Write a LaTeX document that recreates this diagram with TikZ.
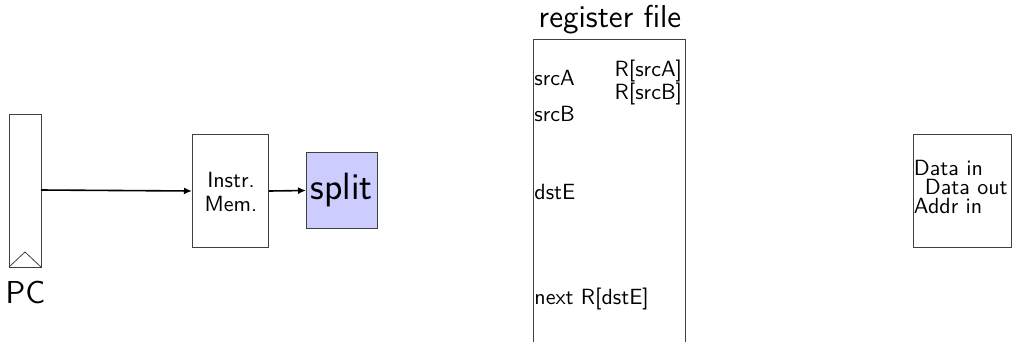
\documentclass[tikz,border=0pt]{standalone}
\usetikzlibrary{arrows.meta}
\begin{document}
\begin{tikzpicture}[x=1pt,y=-1pt,
  small/.style={font=\sffamily\normalsize, scale=2.2, inner sep=0pt},
  big/.style={font=\sffamily\Large, scale=2.2, inner sep=0pt},
  bigger/.style={font=\sffamily\LARGE, scale=2.2, inner sep=0pt},
  unit/.style={draw=black!75, line width=1pt},
  wire/.style={line width=1.6pt, -{Latex[length=8pt,width=7pt]}}
]
\useasboundingbox (0,0) rectangle (1013,341);
% PC register
\draw[unit] (9,114) rectangle (41,267);
\draw[black!75, line width=0.8pt] (9,267) -- (25,252) -- (41,267);
\coordinate (pcout) at (41,190);
\node[big, anchor=base] (pc) at (25.5,303) {PC};
% instruction memory
\node[unit, minimum width=76pt, minimum height=113pt, anchor=north west, inner sep=0pt] (imem) at (192,134) {};
\node[small, align=center, anchor=base] (imemlbl) at (231,211.5) {Instr.\\[-0.9pt]Mem.};
% split
\node[unit, fill=blue!20, minimum width=71pt, minimum height=76pt, anchor=north west, inner sep=0pt] (split) at (306,152) {};
\node[bigger, anchor=base] (splitlbl) at (341.5,199) {split};
\draw[wire] (pcout) -- (imem.west);
\draw[wire] (imem.east) -- (split.west);
% register file
\draw[unit] (533,345) -- (533,39) -- (685,39) -- (685,345);
\node[big, anchor=base] (rflbl) at (610,27) {register file};
\node[small, anchor=base west] (srcA) at (534,85) {srcA};
\node[small, anchor=base west] (srcB) at (534,121) {srcB};
\node[small, anchor=base west] (dstE) at (534,199) {dstE};
\node[small, anchor=base west] (nextR) at (534,304) {next R[dstE]};
\node[small, anchor=base east] (RsrcA) at (682.5,76) {R[srcA]};
\node[small, anchor=base east] (RsrcB) at (682.5,99) {R[srcB]};
% data memory
\node[unit, minimum width=98pt, minimum height=113pt, anchor=north west, inner sep=0pt] (dmem) at (912.5,134) {};
\node[small, align=left, anchor=base west] (dmemlbl) at (913.5,213) {Data in\\[-3.4pt]\hspace*{5pt}Data out\\[-3.4pt]Addr in};
\end{tikzpicture}
\end{document}
